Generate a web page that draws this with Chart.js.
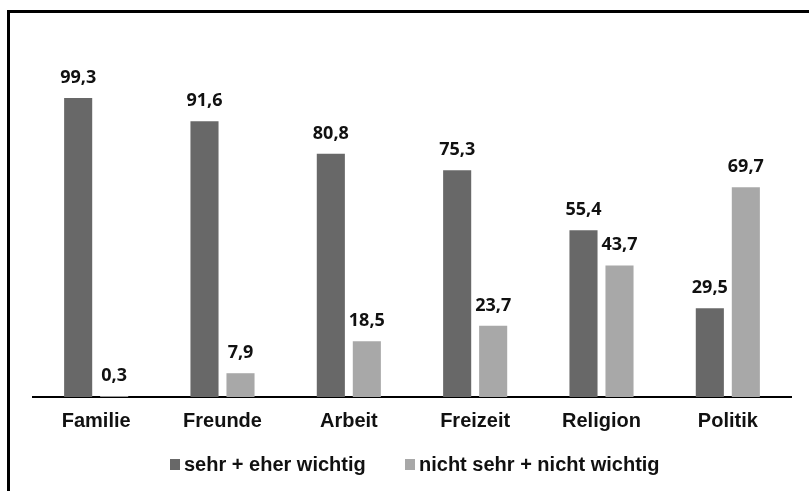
<!DOCTYPE html>
<html>
<head>
<meta charset="utf-8">
<script src="https://cdn.jsdelivr.net/npm/chart.js@4/dist/chart.umd.min.js"></script>
<style>
html,body{margin:0;padding:0;background:#fff;}
#wrap{position:relative;width:809px;height:491px;}
</style>
</head>
<body>
<div id="wrap"><canvas id="c" width="809" height="491"></canvas></div>
<script>
const categories = ["Familie", "Freunde", "Arbeit", "Freizeit", "Religion", "Politik"];
const seriesNames = ["sehr + eher wichtig", "nicht sehr + nicht wichtig"];
const wichtig = [99.3, 91.6, 80.8, 75.3, 55.4, 29.5];
const nichtWichtig = [0.3, 7.9, 18.5, 23.7, 43.7, 69.7];
const colors = ["#686868", "#a8a8a8"];

const frame = {
  id: "frame",
  afterDraw(chart) {
    const ctx = chart.ctx;
    ctx.save();
    ctx.fillStyle = "#000";
    ctx.fillRect(7, 10, 802, 3);
    ctx.fillRect(7, 10, 3, 481);
    ctx.restore();
  }
};

const valueLabels = {
  id: "valueLabels",
  afterDatasetsDraw(chart) {
    const ctx = chart.ctx;
    ctx.save();
    ctx.font = "bold 18px 'Open Sans'";
    ctx.fillStyle = "#111";
    ctx.textAlign = "center";
    ctx.textBaseline = "alphabetic";
    chart.data.datasets.forEach((ds, i) => {
      chart.getDatasetMeta(i).data.forEach((bar, j) => {
        const txt = ds.data[j].toFixed(1).replace(".", ",");
        ctx.fillText(txt, bar.x, bar.y - 15);
      });
    });
    ctx.restore();
  }
};

const customLegend = {
  id: "customLegend",
  afterDraw(chart) {
    const ctx = chart.ctx;
    const pos = [170, 405];
    ctx.save();
    ctx.font = "bold 20px 'Liberation Sans'";
    ctx.textBaseline = "alphabetic";
    ctx.textAlign = "left";
    chart.data.datasets.forEach((ds, i) => {
      ctx.fillStyle = ds.backgroundColor;
      ctx.fillRect(pos[i], 459, 10, 11);
      ctx.fillStyle = "#111";
      ctx.fillText(ds.label, pos[i] + 14, 471);
    });
    ctx.restore();
  }
};

new Chart(document.getElementById("c"), {
  type: "bar",
  data: {
    labels: categories,
    datasets: [
      { label: seriesNames[0], data: wichtig, backgroundColor: colors[0], categoryPercentage: 0.57, barPercentage: 0.78 },
      { label: seriesNames[1], data: nichtWichtig, backgroundColor: colors[1], categoryPercentage: 0.57, barPercentage: 0.78 }
    ]
  },
  options: {
    responsive: false,
    animation: false,
    devicePixelRatio: 1,
    layout: { padding: { left: 33, right: 18, top: 96, bottom: 54 } },
    plugins: { legend: { display: false }, tooltip: { enabled: false } },
    scales: {
      x: {
        grid: { display: false, drawTicks: false },
        border: { display: true, color: "#000", width: 2 },
        ticks: { color: "#111", font: { family: "'Liberation Sans'", size: 20, weight: "bold" }, padding: 12 },
        afterFit(scale) { scale.height = 40; }
      },
      y: {
        display: false,
        min: 0,
        max: 100
      }
    }
  },
  plugins: [frame, valueLabels, customLegend]
});
</script>
</body>
</html>
